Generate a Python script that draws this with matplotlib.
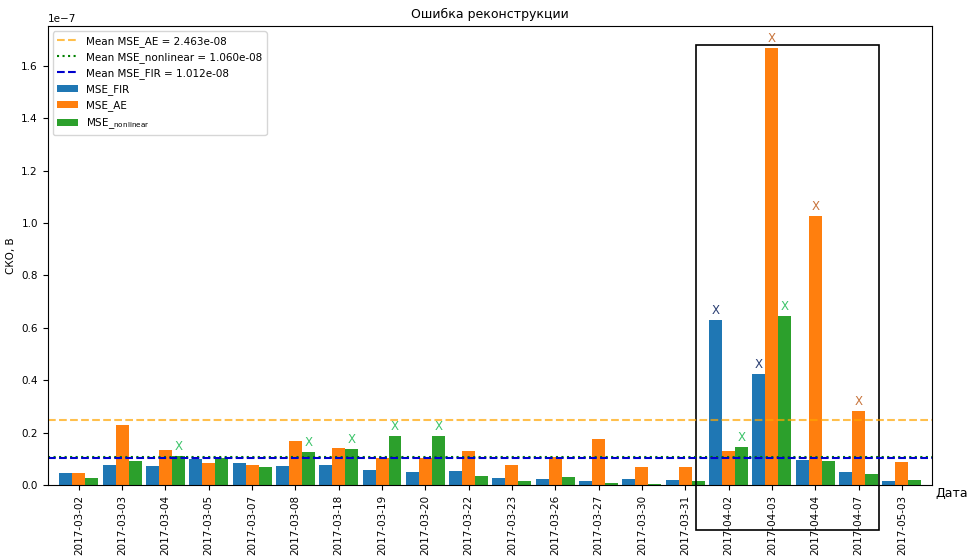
import numpy as np
import matplotlib
matplotlib.use('Agg')
import matplotlib.pyplot as plt
from matplotlib.patches import Rectangle

plt.rcParams['font.size'] = 7.5

dates = ['2017-03-02', '2017-03-03', '2017-03-04', '2017-03-05', '2017-03-07',
         '2017-03-08', '2017-03-18', '2017-03-19', '2017-03-20', '2017-03-22',
         '2017-03-23', '2017-03-26', '2017-03-27', '2017-03-30', '2017-03-31',
         '2017-04-02', '2017-04-03', '2017-04-04', '2017-04-07', '2017-05-03']

# values in units of 1e-7
mse_fir = np.array([0.046, 0.077, 0.073, 0.099, 0.084, 0.071, 0.077, 0.056, 0.049, 0.052,
                    0.025, 0.023, 0.016, 0.023, 0.018, 0.629, 0.424, 0.095, 0.048, 0.013]) * 1e-7
mse_ae = np.array([0.046, 0.228, 0.133, 0.084, 0.077, 0.169, 0.142, 0.104, 0.102, 0.131,
                   0.075, 0.108, 0.174, 0.067, 0.070, 0.129, 1.668, 1.026, 0.282, 0.088]) * 1e-7
mse_nonlinear = np.array([0.027, 0.091, 0.112, 0.101, 0.068, 0.126, 0.137, 0.188, 0.188, 0.034,
                          0.016, 0.029, 0.006, 0.005, 0.015, 0.146, 0.645, 0.090, 0.042, 0.020]) * 1e-7

mean_ae = 2.463e-08
mean_nonlinear = 1.060e-08
mean_fir = 1.012e-08

# dates flagged with an "X" above the bar
flag_fir = ['2017-04-02', '2017-04-03']
flag_ae = ['2017-04-03', '2017-04-04', '2017-04-07']
flag_nonlinear = ['2017-03-04', '2017-03-08', '2017-03-18', '2017-03-19', '2017-03-20',
                  '2017-04-02', '2017-04-03']

# highlighted range of dates
box_dates = ('2017-04-02', '2017-04-07')

fig = plt.figure(figsize=(9.71, 5.58), dpi=100)
ax = fig.add_axes([0.049, 0.131, 0.911, 0.822])

x = np.arange(len(dates))
w = 0.3
ax.axhline(mean_ae, color='orange', linestyle='--', alpha=0.7, label='Mean MSE_AE = %.3e' % mean_ae)
ax.axhline(mean_nonlinear, color='green', linestyle=':', label='Mean MSE_nonlinear = %.3e' % mean_nonlinear)
ax.axhline(mean_fir, color='mediumblue', linestyle='--', label='Mean MSE_FIR = %.3e' % mean_fir)
ax.bar(x - w, mse_fir, w, color='C0', label='MSE_FIR')
ax.bar(x, mse_ae, w, color='C1', label='MSE_AE')
ax.bar(x + w, mse_nonlinear, w, color='C2', label=r'MSE_$_{\mathrm{nonlinear}}$')

for flags, vals, off, col in [(flag_fir, mse_fir, -w, '#2b3f73'),
                              (flag_ae, mse_ae, 0, '#c8743c'),
                              (flag_nonlinear, mse_nonlinear, w, '#3cc46a')]:
    for d in flags:
        i = dates.index(d)
        ax.annotate('X', (x[i] + off, vals[i]), xytext=(0, 2), textcoords='offset points',
                    ha='center', va='bottom', color=col, fontsize=8.5)

ax.autoscale_view()
i0 = dates.index(box_dates[0])
i1 = dates.index(box_dates[1])
ax.add_artist(Rectangle((i0 - 0.76, -0.172e-7), (i1 - i0) + 1.24, 1.851e-7,
                        fill=False, edgecolor='black', linewidth=1.2, clip_on=False))

ax.set_xticks(x)
ax.set_xticklabels(dates, rotation=90)
ax.set_xlim(-0.72, 19.7)
ax.set_title('Ошибка реконструкции')
ax.set_ylabel('СКО, В')
ax.set_xlabel('Дата', fontsize=9)
ax.xaxis.set_label_coords(1.022, -0.005)
ax.legend(loc='upper left')

fig.savefig('out.png', dpi=100)
